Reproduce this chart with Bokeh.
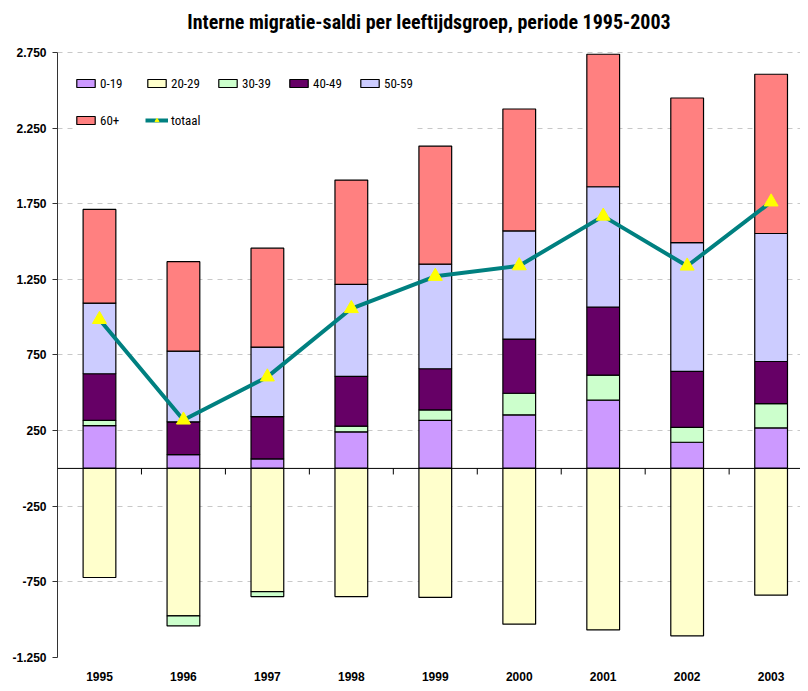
from bokeh.plotting import figure
from bokeh.models import (Range1d, LinearAxis, FixedTicker, Legend, LegendItem,
                          ColumnDataSource, Span)
from bokeh.embed import file_html
from bokeh.resources import INLINE

years = ["1995", "1996", "1997", "1998", "1999", "2000", "2001", "2002", "2003"]
groups = ["0-19", "20-29", "30-39", "40-49", "50-59", "60+"]
v_0_19 = [283, 91, 63, 242, 317, 354, 451, 173, 268]
v_20_29 = [-721, -975, -814, -847, -853, -1030, -1068, -1107, -838]
v_30_39 = [34, -66, -33, 37, 70, 143, 166, 99, 161]
v_40_49 = [309, 217, 280, 329, 272, 358, 450, 369, 278]
v_50_59 = [467, 468, 459, 609, 691, 715, 795, 852, 846]
v_60_plus = [619, 591, 654, 689, 781, 806, 876, 956, 1053]
totaal = [985, 320, 605, 1057, 1270, 1340, 1668, 1338, 1762]
y_ticks = [-1250, -750, -250, 250, 750, 1250, 1750, 2250, 2750]

series = [v_0_19, v_20_29, v_30_39, v_40_49, v_50_59, v_60_plus]
colors = ["#CC99FF", "#FFFFCC", "#CCFFCC", "#660066", "#CCCCFF", "#FF8080"]

NARROW = "Roboto Condensed, DejaVu Sans Condensed, Liberation Sans Narrow, Liberation Sans"
SANS = "Liberation Sans"

xc = [i + 0.5 for i in range(len(years))]
bounds = [float(i) for i in range(1, len(years))]

p = figure(width=800, height=683, output_backend="svg", toolbar_location=None,
           x_range=Range1d(0, 8.85), y_range=Range1d(-1250, 2829),
           min_border_left=57, min_border_right=0, min_border_top=40,
           min_border_bottom=26, x_axis_location=None, y_axis_location=None)
p.outline_line_color = None
p.background_fill_color = "white"
p.border_fill_color = "white"

p.title.text = "Interne migratie-saldi per leeftijdsgroep, periode 1995-2003"
p.title.align = "center"
p.title.text_font = NARROW
p.title.text_font_size = "20px"
p.title.text_font_style = "bold"
p.title.text_color = "black"
p.title.standoff = 14

# y axis
yax = LinearAxis(ticker=FixedTicker(ticks=y_ticks), bounds=(y_ticks[0], y_ticks[-1]))
yax.major_label_overrides = {t: f"{t:,}".replace(",", ".") for t in y_ticks}
yax.major_label_text_font = SANS
yax.major_label_text_font_style = "bold"
yax.major_label_text_font_size = "12px"
yax.major_label_text_color = "black"
yax.axis_line_color = "#333333"
yax.major_tick_out = 5
yax.major_tick_in = 0
yax.major_tick_line_color = "#333333"
yax.minor_tick_line_color = None
yax.major_label_standoff = 6
p.add_layout(yax, "left")

# category labels axis (bottom)
xax = LinearAxis(ticker=FixedTicker(ticks=xc))
xax.major_label_overrides = {c: y for c, y in zip(xc, years)}
xax.major_label_text_font = SANS
xax.major_label_text_font_style = "bold"
xax.major_label_text_font_size = "12px"
xax.major_label_text_color = "black"
xax.axis_line_color = None
xax.major_tick_line_color = None
xax.minor_tick_line_color = None
xax.major_label_standoff = 8
p.add_layout(xax, "below")

# grid
p.ygrid.ticker = FixedTicker(ticks=y_ticks)
p.ygrid.grid_line_color = "#c8c8c8"
p.ygrid.grid_line_dash = "5 5"
p.ygrid.grid_line_width = 1
p.xgrid.grid_line_color = None

# stacked bars (positive stack up, negative stack down)
pos_base = [0.0] * len(years)
neg_base = [0.0] * len(years)
items = []
for name, vals, col in zip(groups, series, colors):
    bottoms, tops = [], []
    for i, v in enumerate(vals):
        if v >= 0:
            bottoms.append(pos_base[i]); tops.append(pos_base[i] + v)
            pos_base[i] += v
        else:
            bottoms.append(neg_base[i] + v); tops.append(neg_base[i])
            neg_base[i] += v
    src = ColumnDataSource(dict(x=xc, bottom=bottoms, top=tops))
    r = p.vbar(x="x", bottom="bottom", top="top", width=0.39, source=src,
               fill_color=col, line_color="black", line_width=1.2)
    items.append(LegendItem(label=name, renderers=[r]))

# zero line with category boundary ticks
p.add_layout(Span(location=0, dimension="width", line_color="black", line_width=1))
TICK = 40  # tick length in data units (~6px)
p.segment(x0=bounds, x1=bounds, y0=[0] * len(bounds), y1=[-TICK] * len(bounds),
          line_color="black", line_width=1)

# totaal line
tsrc = ColumnDataSource(dict(x=xc, y=totaal))
lr = p.line("x", "y", source=tsrc, line_color="#008080", line_width=4)
sr = p.scatter("x", "y", source=tsrc, marker="triangle", size=14,
               fill_color="#FFFF00", line_color="#FFFF00")
items.append(LegendItem(label="totaal", renderers=[lr, sr]))

legend = Legend(items=items, location=(17, 525), orientation="horizontal",
                ncols=5)
legend.margin = 0
legend.padding = 10
legend.spacing = 13
legend.glyph_width = 23
legend.glyph_height = 10
legend.label_width = 32
legend.label_height = 24
legend.label_standoff = 3
legend.label_text_font = NARROW
legend.label_text_font_size = "13px"
legend.label_text_color = "black"
legend.border_line_color = None
legend.background_fill_color = "white"
legend.background_fill_alpha = 1
p.add_layout(legend, "center")

open("out.html", "w").write(file_html(p, INLINE))
